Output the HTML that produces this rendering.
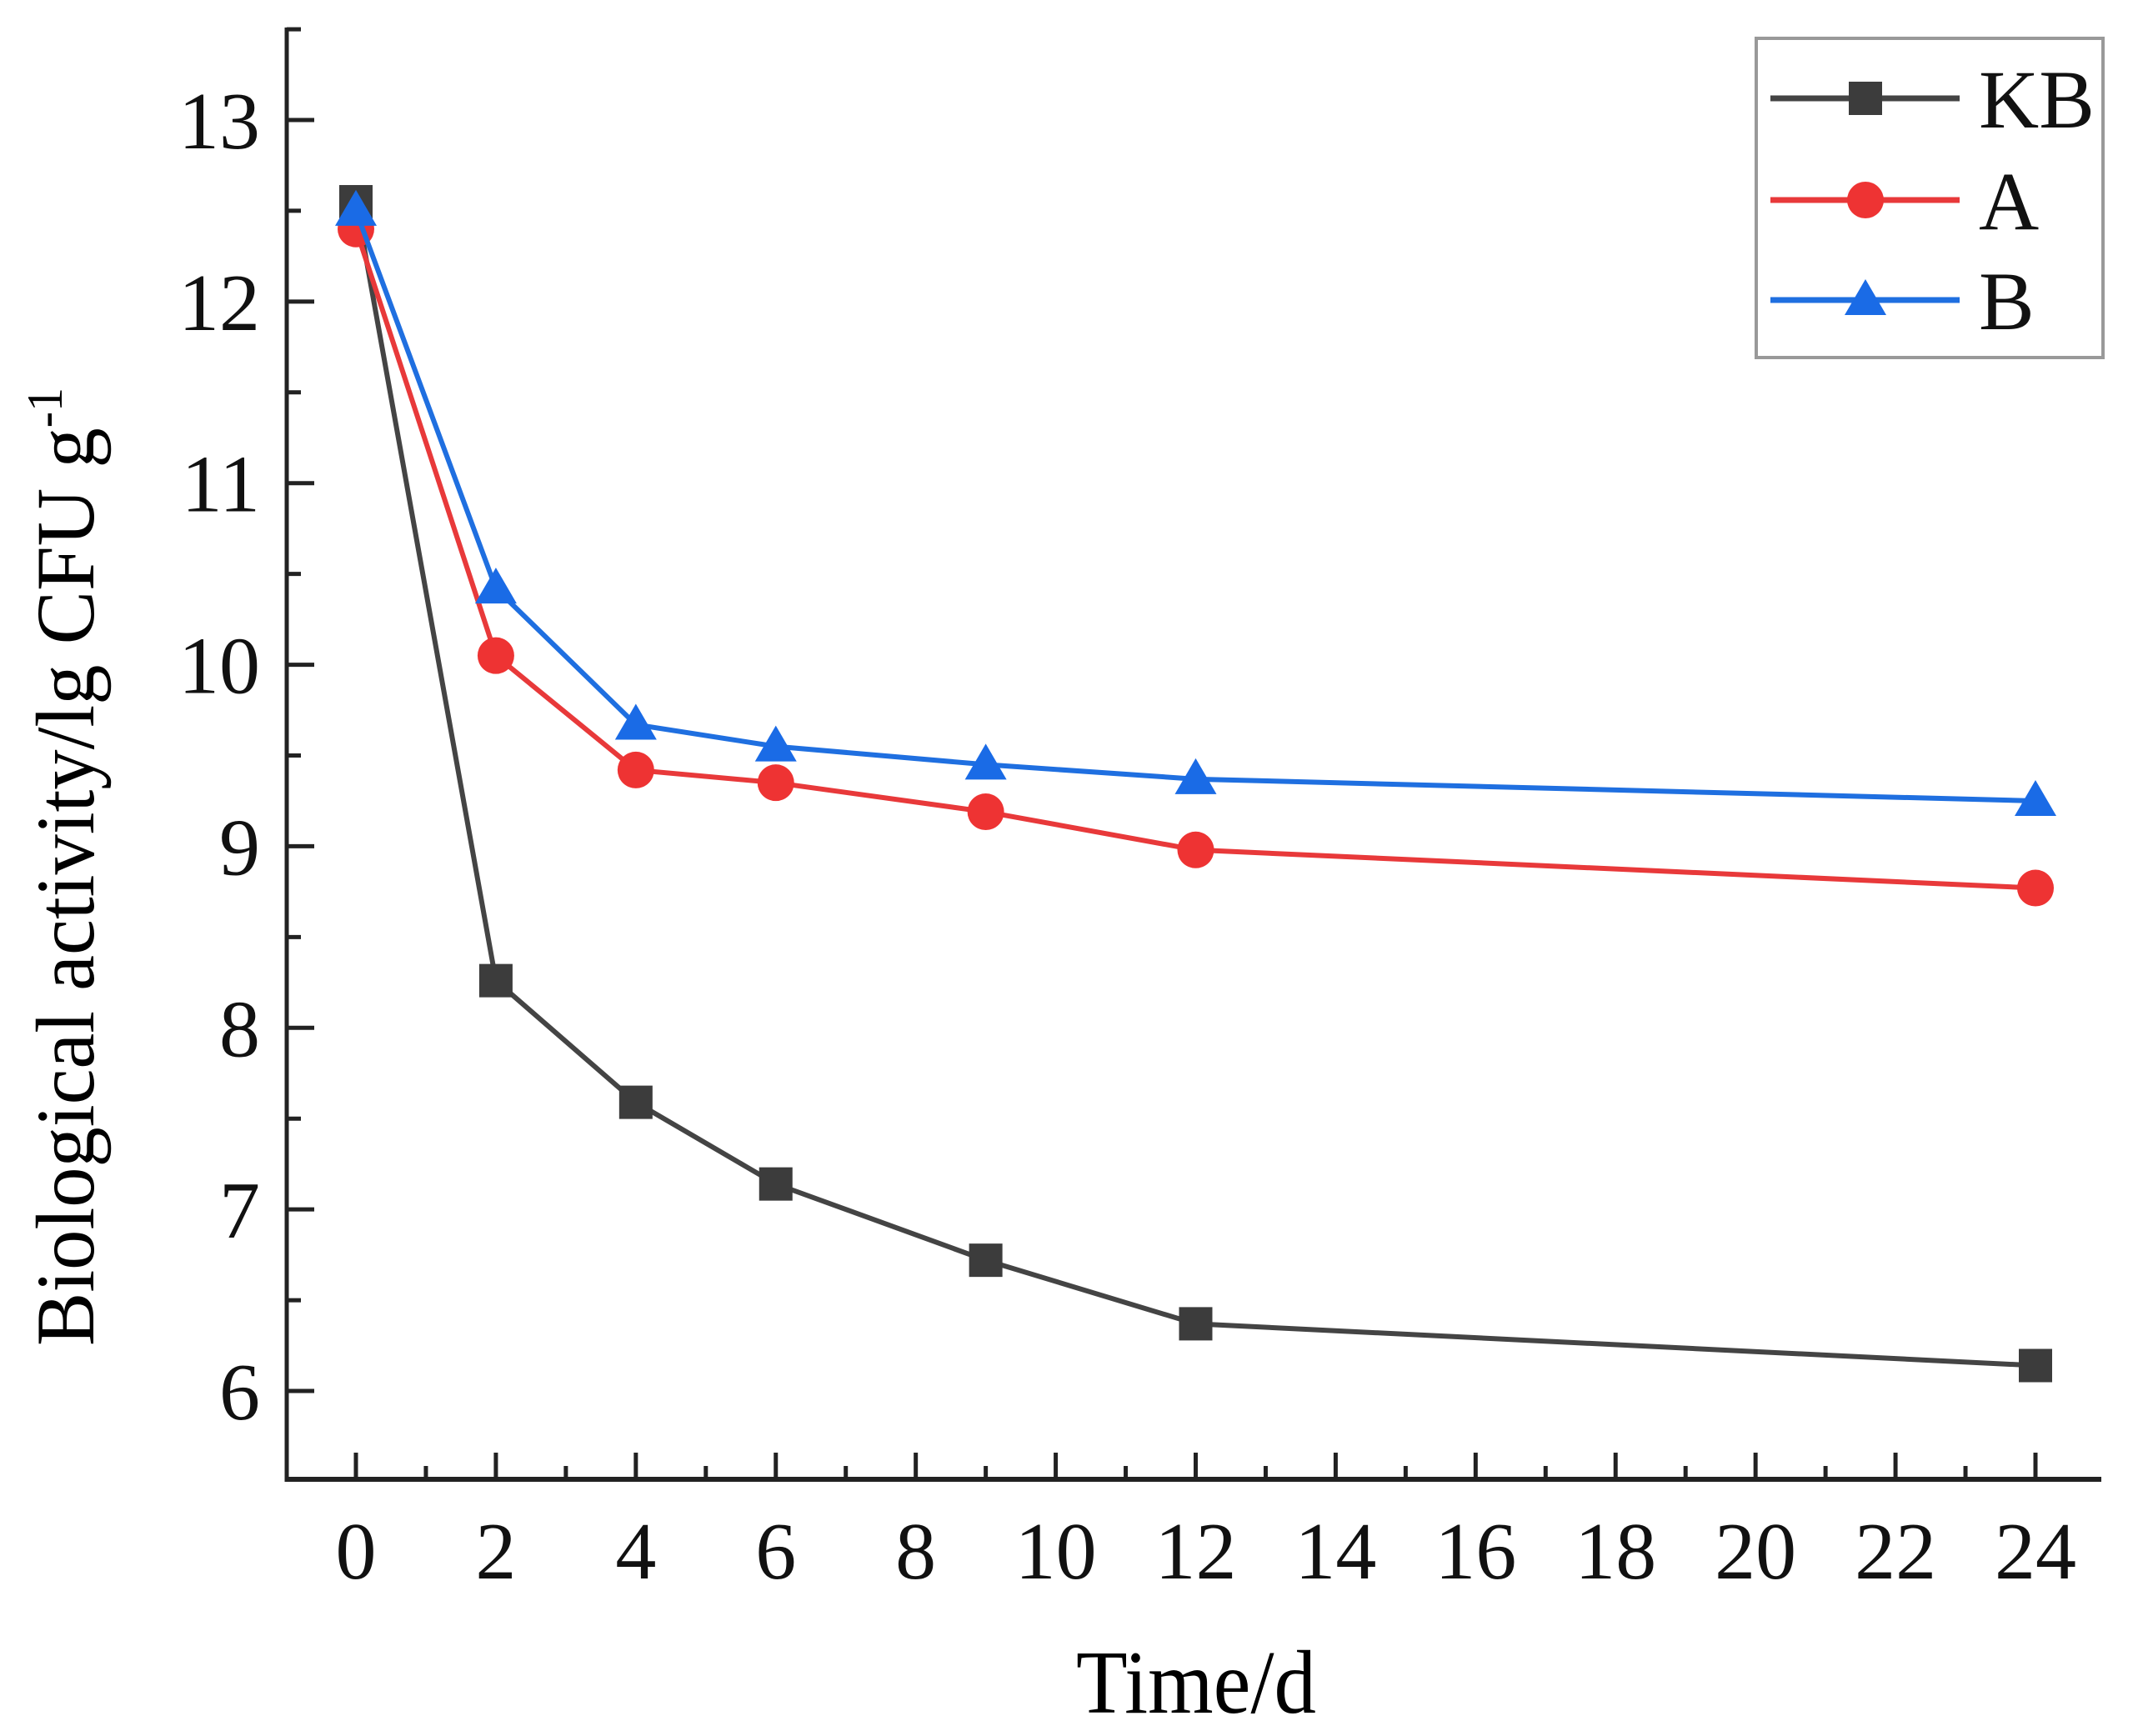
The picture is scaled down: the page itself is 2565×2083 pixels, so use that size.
<!DOCTYPE html>
<html><head><meta charset="utf-8"><style>
html,body{margin:0;padding:0;background:#fff;}
svg{display:block;font-family:"Liberation Serif",serif;}
</style></head><body>
<svg id="chart" width="2565" height="2083" viewBox="0 0 2565 2083" xmlns="http://www.w3.org/2000/svg">
<rect width="2565" height="2083" fill="#fff"/>
<g id="axes"></g>
<g id="series"></g>
<text x="1435" y="2055" font-size="108" text-anchor="middle" textLength="288" lengthAdjust="spacingAndGlyphs">Time/d</text>
<text transform="translate(112,1040) rotate(-90)" font-size="100" text-anchor="middle" textLength="1150" lengthAdjust="spacingAndGlyphs">Biological activity/lg CFU g<tspan font-size="60" dy="-38">-1</tspan></text>
<g id="legend">
<rect x="2107" y="46" width="416" height="383" fill="#fff" stroke="#999" stroke-width="4"/>
</g>
</svg>
<script>
const xTicks = [0,2,4,6,8,10,12,14,16,18,20,22,24];
const yTicks = [6,7,8,9,10,11,12,13];
const days = [0,2,4,6,9,12,24];
const kbValues = [12.55,8.26,7.59,7.14,6.72,6.37,6.14];
const aValues = [12.40,10.05,9.42,9.35,9.19,8.98,8.77];
const bValues = [12.50,10.42,9.67,9.55,9.45,9.37,9.25];
const seriesNames = ['KB','A','B'];

const NS='http://www.w3.org/2000/svg';
const X0=427, X1=2442, Y13=144, Y6=1669;
const xs = v => X0 + (v-0)*(X1-X0)/24;
const ys = v => Y6 - (v-6)*(Y6-Y13)/7;
const AX=344, AY=1775, ATOP=33, ARIGHT=2521;
function mk(tag, attrs, parent){const e=document.createElementNS(NS,tag);for(const k in attrs)e.setAttribute(k,attrs[k]);parent.appendChild(e);return e;}
const axes=document.getElementById('axes');
let e;
e=mk('line',{x1:AX,y1:ATOP,x2:AX,y2:AY+3,stroke:'#222','stroke-width':5},axes);


e=mk('line',{x1:AX-2,y1:AY,x2:ARIGHT,y2:AY,stroke:'#222','stroke-width':6},axes);


for(let v=0; v<=24; v+=1){
  const major = v%2===0;
  e=mk('line',{x1:xs(v),y1:AY,x2:xs(v),y2:AY-(major?32:16),stroke:'#222','stroke-width':5},axes);
  
  
}
xTicks.forEach(v=>{
  e=mk('text',{x:xs(v),y:1894,'font-size':98,'text-anchor':'middle',fill:'#111'},axes);
  e.textContent=String(v);
  
  
});
for(let v=5.5; v<=13.5; v+=0.5){
  const major = Math.abs(v-Math.round(v))<1e-6;
  const y=ys(v);
  if(y<ATOP||y>AY) continue;
  e=mk('line',{x1:AX,y1:y,x2:AX+(major?33:17),y2:y,stroke:'#222','stroke-width':5},axes);
  
  
}
yTicks.forEach(v=>{
  e=mk('text',{x:312,y:ys(v)+34,'font-size':98,'text-anchor':'end',fill:'#111'},axes);
  e.textContent=String(v);
  
  
});

const series=document.getElementById('series');
const colors={KB:'#444',A:'#e8393a',B:'#1f6fe0'};
const markColors={KB:'#3c3c3c',A:'#ee3333',B:'#1a6be6'};
function marker(name,cx,cy,parent){
  let m;
  if(name==='KB') m=mk('rect',{x:cx-20,y:cy-20,width:40,height:40,fill:markColors.KB},parent);
  else if(name==='A') m=mk('circle',{cx:cx,cy:cy,r:22,fill:markColors.A},parent);
  else m=mk('polygon',{points:`${cx},${cy-25} ${cx+25},${cy+18} ${cx-25},${cy+18}`,fill:markColors.B},parent);
  return m;
}
const allVals={KB:kbValues,A:aValues,B:bValues};
seriesNames.forEach(name=>{
  const vals=allVals[name];
  const g=mk('g',{},series);
  
  
  const pts=days.map((d,i)=>xs(d)+','+ys(vals[i])).join(' ');
  e=mk('polyline',{points:pts,fill:'none',stroke:colors[name],'stroke-width':6},g);
  
  
  days.forEach((d,i)=>{
    const m=marker(name,xs(d),ys(vals[i]),g);
    
    
  });
});

const legend=document.getElementById('legend');
const legY=[118,240,360];
seriesNames.forEach((name,i)=>{
  const g=mk('g',{},legend);
  
  
  mk('line',{x1:2124,y1:legY[i],x2:2351,y2:legY[i],stroke:colors[name],'stroke-width':7},g);
  marker(name,2238,legY[i],g);
  const t=mk('text',{x:2374,y:legY[i]+35,'font-size':100,fill:'#111'},g);
  t.textContent=name;
});
</script>
</body></html>
